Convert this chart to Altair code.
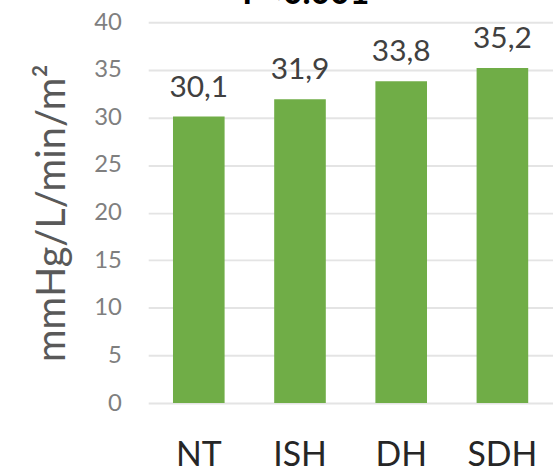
import altair as alt
import pandas as pd

# Groups and their mean values
groups = ["NT", "ISH", "DH", "SDH"]
values = [30.1, 31.9, 33.8, 35.2]
y_ticks = [0, 5, 10, 15, 20, 25, 30, 35, 40]

df = pd.DataFrame({
    "group": groups,
    "value": values,
    "label": [f"{v:.1f}".replace(".", ",") for v in values],
})

FONT = "Lato"

base = alt.Chart(df).encode(
    x=alt.X(
        "group:N",
        sort=groups,
        scale=alt.Scale(paddingInner=0.49, paddingOuter=0.245),
        axis=alt.Axis(
            title=None,
            labelAngle=0,
            labelFont=FONT,
            labelFontSize=34,
            labelColor="#262626",
            labelPadding=36,
            ticks=False,
            domain=False,
            grid=False,
        ),
    ),
    y=alt.Y(
        "value:Q",
        scale=alt.Scale(domain=[0, 40]),
        axis=alt.Axis(
            title="mmHg/L/min/m²",
            titleFont=FONT,
            titleFontSize=40,
            titleFontWeight="normal",
            titleColor="#595959",
            titlePadding=21,
            values=y_ticks,
            labelFont=FONT,
            labelFontSize=24,
            labelColor="#7f7f7f",
            labelPadding=27,
            ticks=False,
            domain=False,
            gridColor="#e4e4e4",
            gridWidth=2,
        ),
    ),
)

bars = base.mark_bar(color="#70AD47")

labels = base.mark_text(
    font=FONT,
    fontSize=30,
    color="#404040",
    baseline="alphabetic",
    dy=-20,
).encode(text="label:N")

chart = (
    (bars + labels)
    .properties(
        width=407,
        height=383,
        autosize=alt.AutoSizeParams(type="none"),
        padding={"left": 149, "top": 21, "right": 0, "bottom": 70},
        title=alt.TitleParams(
            "P<0.001",
            font=FONT,
            fontSize=34,
            fontWeight="bold",
            color="#000000",
            anchor="middle",
            offset=-1,
            dx=-45,
        ),
    )
    .configure_view(stroke=None)
)

chart.save("out.html", embed_options={"renderer": "svg", "actions": False})
